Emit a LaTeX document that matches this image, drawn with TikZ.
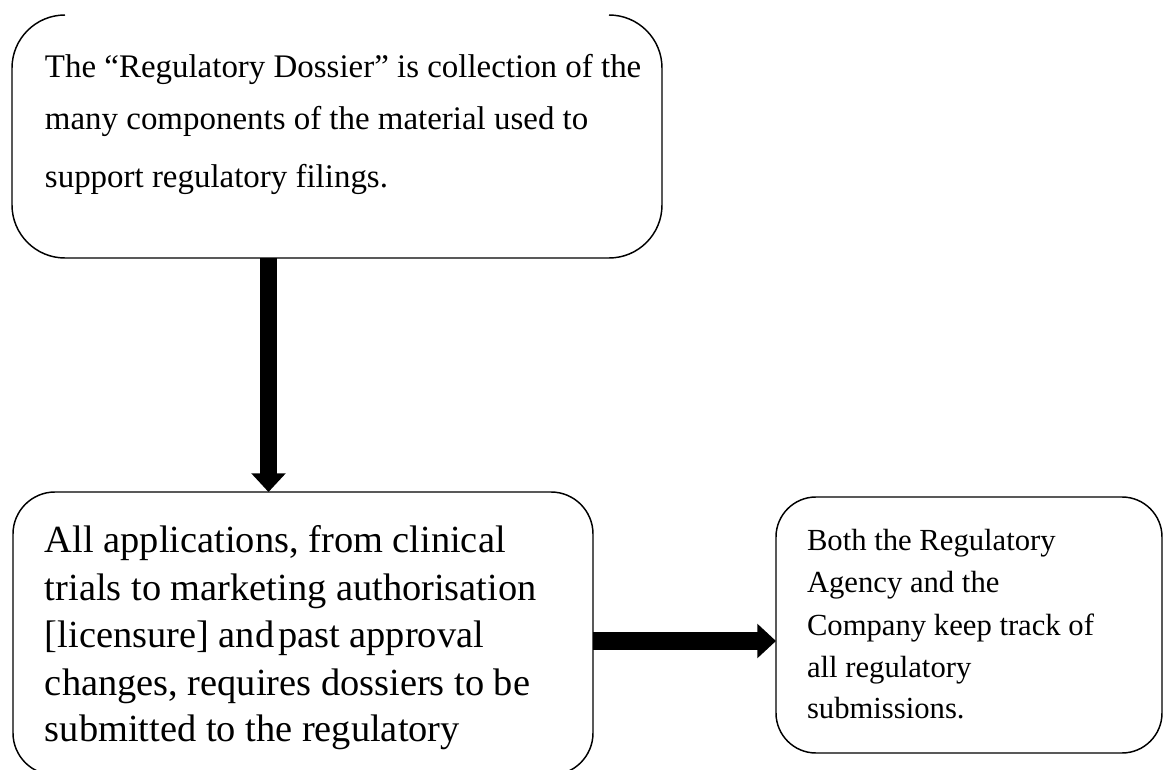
\documentclass[tikz,border=0pt]{standalone}
\usepackage{fontspec}
\setmainfont{Liberation Serif}
\usetikzlibrary{calc,arrows.meta}

\tikzset{
  boxline/.style={draw=black, line width=1.1pt},
  panel/.style={rectangle, boxline, outer sep=0pt, inner sep=0pt},
  bigarrow/.style={draw=black, line width=13pt, line cap=butt,
    -{Triangle[length=14pt 0 0, width=25pt 0 0]}},
  linetext/.style={anchor=base west, inner sep=0pt, outer sep=0pt},
  tsize/.style={font=\fontsize{24.7}{30}\selectfont},
  bsize/.style={font=\fontsize{28.8}{34}\selectfont},
  rsize/.style={font=\fontsize{23}{28}\selectfont},
}

\begin{document}
\begin{tikzpicture}[x=0.75pt, y=-0.75pt]
\useasboundingbox (0,0) rectangle (1165,770);
\clip (0,0) rectangle (1165,770);

% boxes (the upper one is open along its top edge)
\node[rectangle, outer sep=0pt, inner sep=0pt, minimum width=487.5pt, minimum height=182.25pt] (topbox) at (337,136.5) {};
\draw[boxline, rounded corners=39.75pt]
  ($(topbox.north west)+(53,0)$) -- (topbox.north west) -- (topbox.south west)
  -- (topbox.south east) -- (topbox.north east) -- ($(topbox.north east)+(-53,0)$);

\node[panel, rounded corners=31.5pt, minimum width=435pt, minimum height=212.25pt] (botbox) at (303,633.5) {};
\node[panel, rounded corners=30pt, minimum width=289.5pt, minimum height=192pt] (rightbox) at (969,625) {};

% texts
\node[linetext, tsize] (t1) at (45,78)  {The “Regulatory Dossier” is collection of the};
\node[linetext, tsize] (t2) at (45,130) {many components of the material used to};
\node[linetext, tsize] (t3) at (45,188) {support regulatory filings.};

\node[linetext, bsize] (b1) at (45,552) {All applications, from clinical};
\node[linetext, bsize] (b2) at (45,600) {trials to marketing authorisation};
\node[linetext, bsize] (b3) at (45,647) {[licensure] and\kern3pt past approval};
\node[linetext, bsize] (b4) at (45,695) {changes, requires dossiers to be};
\node[linetext, bsize] (b5) at (45,741) {submitted to the regulatory};

\node[linetext, rsize] (r1) at (807,550) {Both the Regulatory};
\node[linetext, rsize] (r2) at (807,592) {Agency and the};
\node[linetext, rsize] (r3) at (807,635) {Company keep track of};
\node[linetext, rsize] (r4) at (807,677) {all regulatory};
\node[linetext, rsize] (r5) at (807,718) {submissions.};

% arrows
\draw[bigarrow] (268.5,0 |- topbox.south) -- (268.5,0 |- botbox.north);
\draw[bigarrow] (botbox.east |- 0,641) -- (rightbox.west |- 0,641);
\end{tikzpicture}
\end{document}
